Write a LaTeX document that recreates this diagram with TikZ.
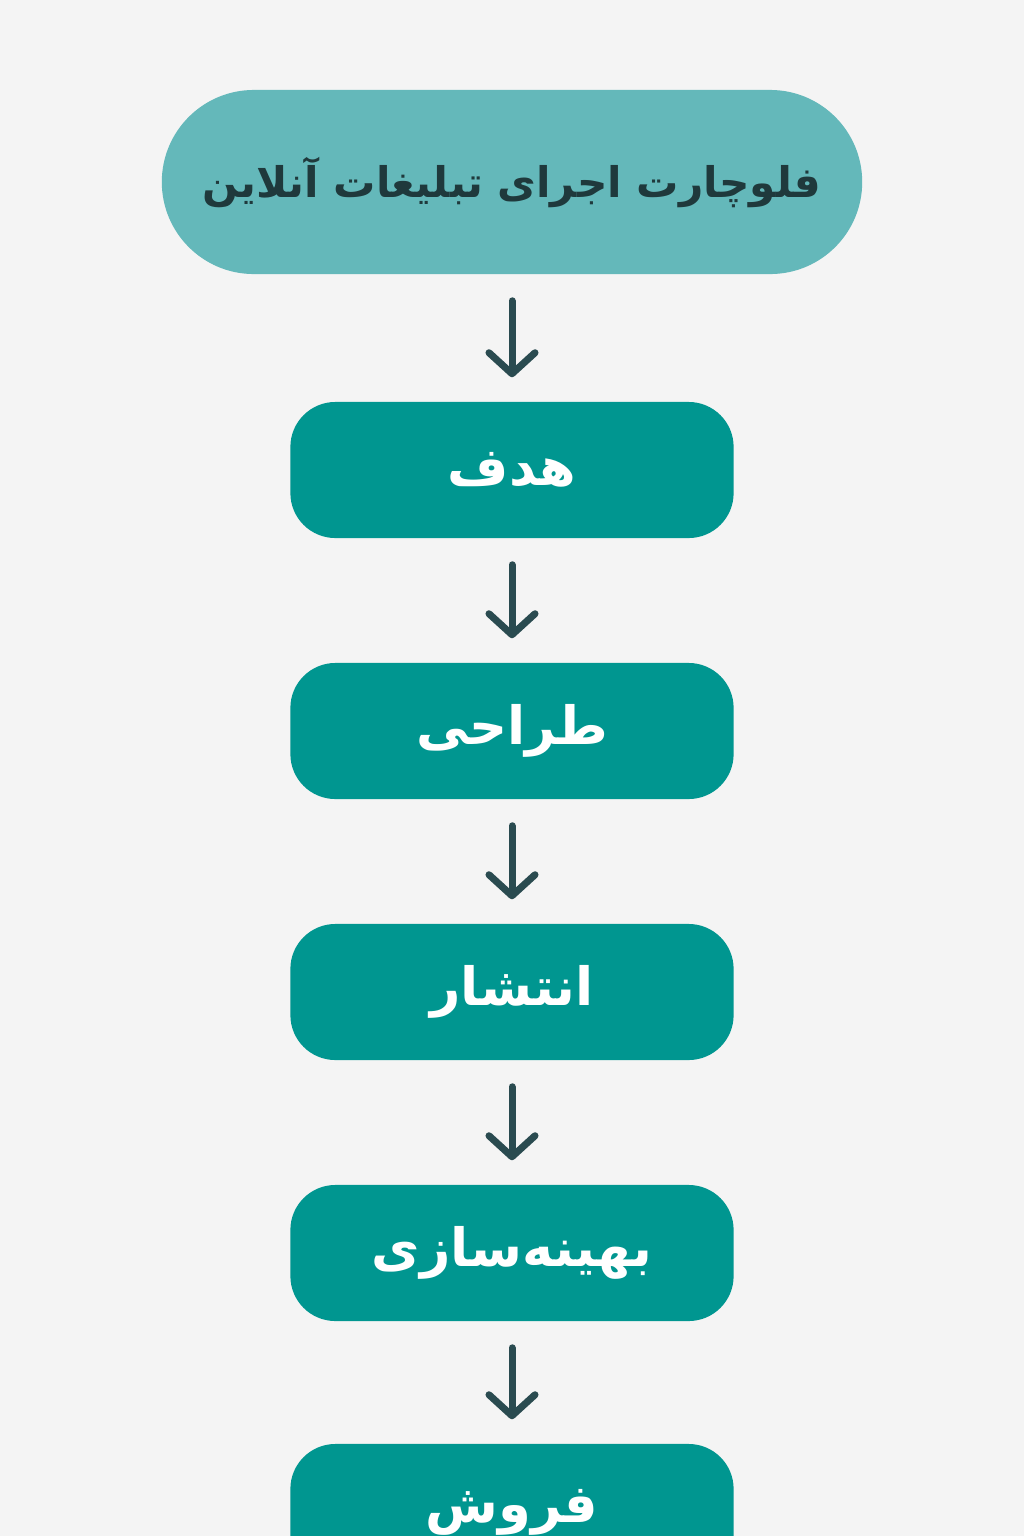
\documentclass[tikz,border=0pt]{standalone}
\usepackage{fontspec}
\usetikzlibrary{arrows.meta}
\newfontfamily\arabicfont[Script=Arabic]{DejaVu Sans}
\TeXXeTstate=1
\definecolor{bgcol}{HTML}{F4F4F4}
\definecolor{titlecol}{HTML}{64B8BA}
\definecolor{boxcol}{HTML}{009690}
\definecolor{inkcol}{HTML}{1F393C}
\definecolor{arrowcol}{HTML}{2A4B50}
\tikzset{
  title/.style={shape=rectangle, rounded corners=0.92cm, fill=titlecol, draw=none,
    minimum width=7cm, minimum height=1.84cm, inner sep=0pt, text=inkcol,
    font=\arabicfont\bfseries\fontsize{12}{15}\selectfont},
  stepbox/.style={shape=rectangle, rounded corners=0.45cm, fill=boxcol, draw=none,
    minimum width=4.43cm, minimum height=1.36cm, inner sep=0pt, text=white,
    font=\arabicfont\bfseries\fontsize{15}{18}\selectfont},
  flow/.style={draw=arrowcol, line width=0.07cm, line cap=round,
    -{Straight Barb[length=0.21cm, width=0.46cm, line cap=round, line join=round]},
    shorten <=0.26cm, shorten >=0.24cm}
}
\begin{document}
\begin{tikzpicture}[x=0.01cm, y=-0.01cm]
                \fill[bgcol] (0, 0) rectangle (1024, 1536);
                \clip (0, 0) rectangle (1024, 1536);

                \node[title] (T) at (512, 182) {\beginR فلوچارت اجرای تبلیغات آنلاین\endR};
                \node[stepbox] (A) at (512, 470) {\beginR هدف\endR};
                \node[stepbox] (B) at (512, 731) {\beginR طراحی\endR};
                \node[stepbox] (C) at (512, 992) {\beginR انتشار\endR};
                \node[stepbox] (D) at (512, 1253) {\beginR بهینه‌سازی\endR};
                \node[stepbox] (E) at (512, 1512) {\beginR فروش\endR};

                \path[flow] (T) edge (A);
                \path[flow] (A) edge (B);
                \path[flow] (B) edge (C);
                \path[flow] (C) edge (D);
                \path[flow] (D) edge (E);
            \end{tikzpicture}
\end{document}
